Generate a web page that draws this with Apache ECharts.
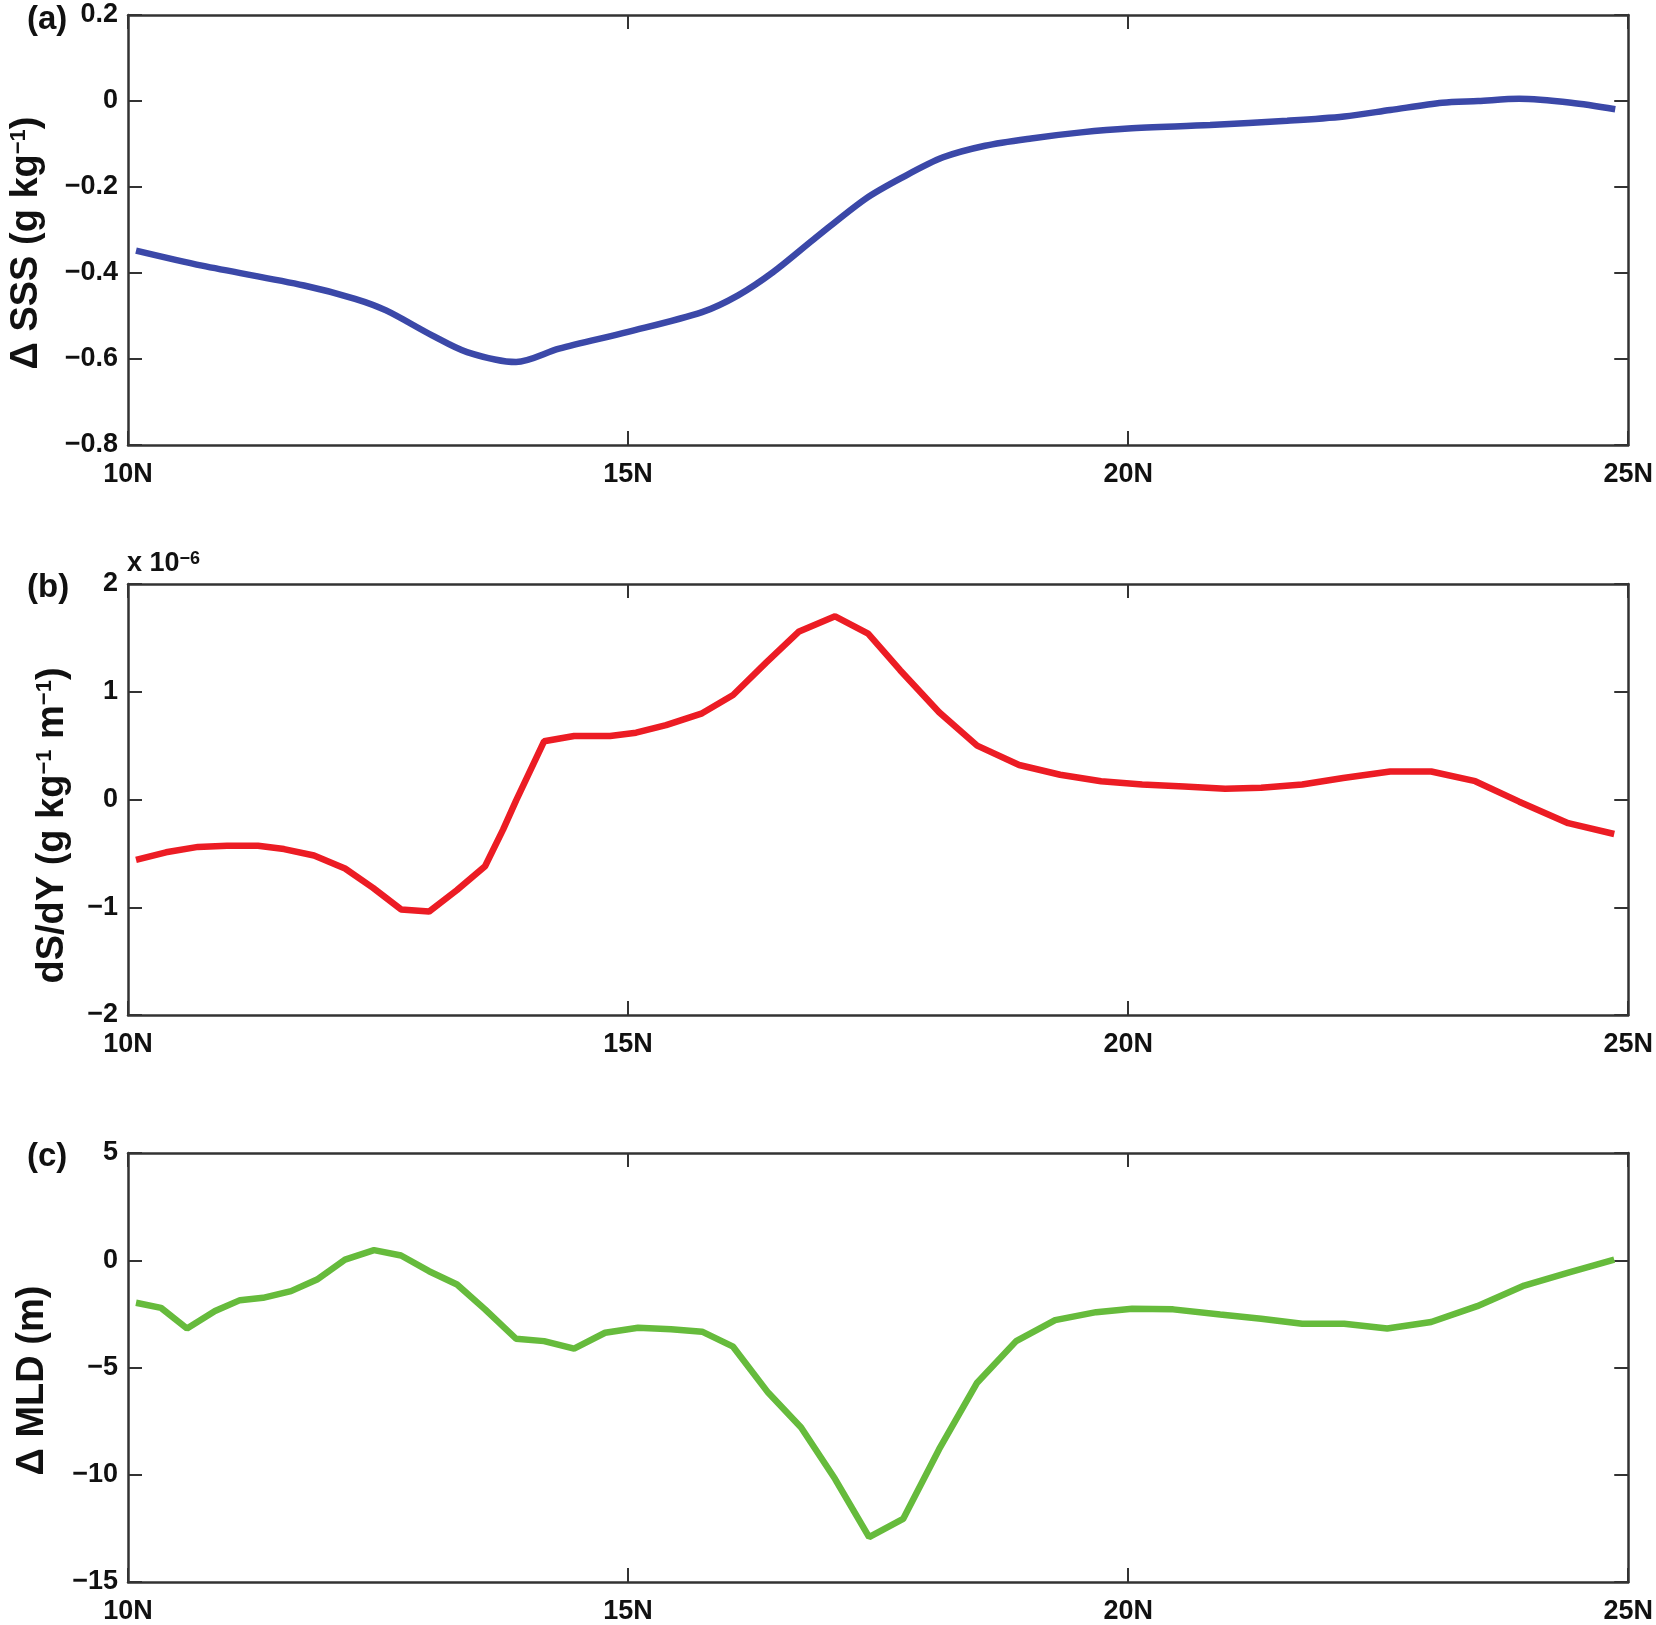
<!DOCTYPE html>
<html>
<head>
<meta charset="utf-8">
<title>SSS / dSdY / MLD</title>
<script src="https://cdn.jsdelivr.net/npm/echarts@6/dist/echarts.min.js"></script>
<style>
  html, body { margin: 0; padding: 0; background: #fff; }
  #chart { width: 1656px; height: 1625px; }
</style>
</head>
<body>
<div id="chart"></div>
<script>
// (a) salinity anomaly
const latA = [10.08, 10.74, 11.76, 12.27, 12.58, 13.04, 13.39, 13.88, 14.31, 15.0,
  15.74, 16.1, 16.45, 16.86, 17.37, 17.74, 18.15, 18.57, 19.03, 19.53,
  20.0, 20.82, 21.59, 22.16, 22.62, 23.14, 23.5, 23.91, 24.43, 24.87]
const sss = [-0.348, -0.383, -0.429, -0.46, -0.487, -0.545, -0.584, -0.607, -0.576, -0.537,
  -0.491, -0.452, -0.398, -0.321, -0.228, -0.178, -0.131, -0.104, -0.087, -0.073,
  -0.064, -0.056, -0.046, -0.036, -0.021, -0.004, 0.0, 0.005, -0.004, -0.019]

// (b) meridional salinity gradient, x 1e-6
const latB = [10.08, 10.38, 10.7, 10.99, 11.3, 11.56, 11.86, 12.17, 12.45, 12.73,
  13.01, 13.29, 13.57, 13.75, 13.88, 14.16, 14.46, 14.82, 15.08, 15.38,
  15.74, 16.05, 16.38, 16.71, 17.07, 17.4, 17.72, 18.11, 18.49, 18.91,
  19.32, 19.73, 20.14, 20.56, 20.97, 21.33, 21.74, 22.15, 22.62, 23.03,
  23.47, 23.91, 24.4, 24.86]
const dsdy = [-0.56, -0.49, -0.44, -0.43, -0.43, -0.46, -0.52, -0.64, -0.82, -1.02,
  -1.04, -0.84, -0.62, -0.28, -0.01, 0.54, 0.59, 0.59, 0.62, 0.69,
  0.8, 0.97, 1.27, 1.56, 1.7, 1.54, 1.2, 0.81, 0.5, 0.32,
  0.23, 0.17, 0.14, 0.12, 0.1, 0.11, 0.14, 0.2, 0.26, 0.26,
  0.17, -0.02, -0.22, -0.32]

// (c) mixed layer depth anomaly
const latC = [10.08, 10.33, 10.59, 10.87, 11.12, 11.35, 11.63, 11.89, 12.17, 12.46,
  12.73, 13.01, 13.29, 13.57, 13.88, 14.16, 14.46, 14.77, 15.1, 15.43,
  15.74, 16.05, 16.4, 16.73, 17.07, 17.41, 17.75, 18.11, 18.49, 18.88,
  19.27, 19.68, 20.04, 20.45, 20.92, 21.33, 21.74, 22.16, 22.59, 23.03,
  23.49, 23.96, 24.41, 24.86]
const mld = [-1.98, -2.22, -3.18, -2.37, -1.86, -1.75, -1.44, -0.9, 0.03, 0.47,
  0.22, -0.51, -1.13, -2.29, -3.66, -3.77, -4.12, -3.38, -3.15, -3.22,
  -3.33, -4.03, -6.17, -7.8, -10.2, -12.91, -12.06, -8.81, -5.71, -3.77,
  -2.79, -2.42, -2.26, -2.29, -2.53, -2.73, -2.96, -2.96, -3.18, -2.88,
  -2.14, -1.18, -0.56, 0.03]

const FONT = '"Liberation Sans", Arial, Helvetica, sans-serif'
const AXIS_COLOR = '#333'

const zip = (xs, ys) => xs.map((x, i) => [x, ys[i]])
const minus = s => String(s).replace('-', '\u2212')

const panels = [
  {
    top: 15, height: 430, min: -0.8, max: 0.2, interval: 0.2,
    fmt: v => Math.abs(v) < 1e-9 ? '0' : minus(v.toFixed(1)),
    name: '{t|\u0394 SSS (g kg}{s|\u22121}{t|)}', nameGap: 82, shift: 26,
    data: zip(latA, sss), color: '#3b48a8', smooth: 0.3
  },
  {
    top: 584, height: 431, min: -2, max: 2, interval: 1,
    fmt: v => minus(Math.round(v)),
    name: '{t|dS/dY (g kg}{s|\u22121}{t| m}{s|\u22121}{t|)}', nameGap: 56, shift: 52,
    data: zip(latB, dsdy), color: '#ec1c24', smooth: false
  },
  {
    top: 1153, height: 430, min: -15, max: 5, interval: 5,
    fmt: v => minus(Math.round(v)),
    name: '{t|\u0394 MLD (m)}', nameGap: 76, shift: 26,
    data: zip(latC, mld), color: '#66bb3c', smooth: false
  }
]

const tickStyle = { inside: true, length: 14, lineStyle: { color: AXIS_COLOR, width: 2 } }
const lineStyle = { color: AXIS_COLOR, width: 2.5 }
const labelStyle = { fontFamily: FONT, fontWeight: 'bold', fontSize: 27, color: '#111' }

const grid = []
const xAxis = []
const yAxis = []
const series = []

panels.forEach((p, i) => {
  grid.push({ left: 128, width: 1502, top: p.top, height: p.height })

  xAxis.push({
    type: 'value', gridIndex: i, min: 10, max: 25, interval: 5, position: 'bottom',
    axisLine: { onZero: false, lineStyle }, axisTick: tickStyle, splitLine: { show: false },
    axisLabel: Object.assign({ margin: 16, formatter: v => v + 'N' }, labelStyle)
  })
  xAxis.push({
    type: 'value', gridIndex: i, min: 10, max: 25, interval: 5, position: 'top',
    axisLine: { onZero: false, lineStyle }, axisTick: tickStyle, splitLine: { show: false },
    axisLabel: { show: false }
  })

  yAxis.push({
    type: 'value', gridIndex: i, min: p.min, max: p.max, interval: p.interval, position: 'left',
    axisLine: { show: true, onZero: false, lineStyle }, axisTick: tickStyle, splitLine: { show: false },
    axisLabel: Object.assign({ margin: 10, formatter: p.fmt }, labelStyle),
    name: p.name, nameLocation: 'middle', nameGap: p.nameGap, nameRotate: 90,
    nameTextStyle: {
      // right padding pushes the rotated title a little downwards, as in the original
      padding: [0, p.shift, 0, 0],
      rich: {
        t: { fontFamily: FONT, fontWeight: 'bold', fontSize: 38, color: '#111' },
        s: { fontFamily: FONT, fontWeight: 'bold', fontSize: 22, color: '#111', verticalAlign: 'top' }
      }
    }
  })
  yAxis.push({
    type: 'value', gridIndex: i, min: p.min, max: p.max, interval: p.interval, position: 'right',
    axisLine: { show: true, onZero: false, lineStyle }, axisTick: tickStyle, splitLine: { show: false },
    axisLabel: { show: false }
  })

  series.push({
    type: 'line', xAxisIndex: i * 2, yAxisIndex: i * 2,
    data: p.data, showSymbol: false, smooth: p.smooth,
    lineStyle: { color: p.color, width: 6.5 }, itemStyle: { color: p.color },
    silent: true, animation: false
  })
})

const panelLabel = (txt, top) => ({
  type: 'text', left: 27, top: top,
  style: { text: txt, font: 'bold 33px ' + FONT, fill: '#111' }
})

const option = {
  backgroundColor: '#fff',
  animation: false,
  grid, xAxis, yAxis, series,
  graphic: [
    panelLabel('(a)', 3),
    panelLabel('(b)', 571),
    panelLabel('(c)', 1140),
    {
      type: 'text', left: 127, top: 550,
      style: {
        text: '{m|x 10}{s|\u22126}',
        rich: {
          m: { font: 'bold 27px ' + FONT, fill: '#111' },
          s: { font: 'bold 18px ' + FONT, fill: '#111', verticalAlign: 'top' }
        }
      }
    }
  ]
}

const chart = echarts.init(document.getElementById('chart'), null, { renderer: 'canvas' })
chart.setOption(option)
</script>
</body>
</html>
